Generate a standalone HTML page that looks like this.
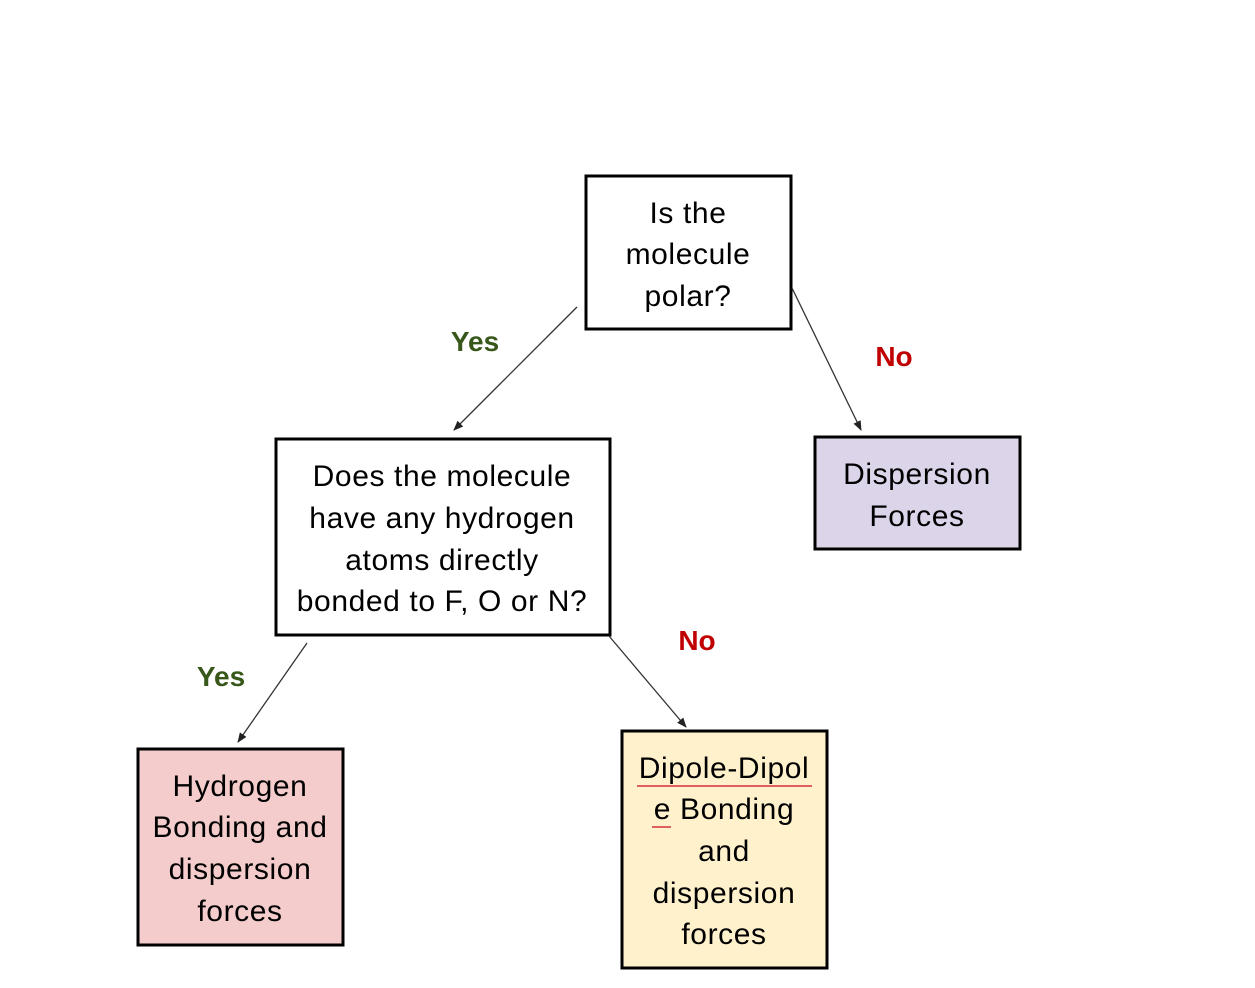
<!DOCTYPE html>
<html><head><meta charset="utf-8"><style>
html,body{margin:0;padding:0;background:#fff;}
svg text{font-family:"Liberation Sans",sans-serif;}
</style></head><body>
<svg width="1255" height="983" viewBox="0 0 1255 983" xmlns="http://www.w3.org/2000/svg">
<defs><marker id="a" markerWidth="10" markerHeight="10" refX="9" refY="5" orient="auto" markerUnits="userSpaceOnUse" viewBox="0 0 10 10"><path d="M0,1 L10,5 L0,9 Z" fill="#222"/></marker></defs>
<rect x="0" y="0" width="1255" height="983" fill="#fff"/>
<g stroke="#000" stroke-width="3">
<rect x="586" y="176" width="205" height="153" fill="#fff"/>
<rect x="276" y="439" width="334" height="196" fill="#fff"/>
<rect x="815" y="437" width="205" height="112" fill="#dcd5e9"/>
<rect x="138" y="749" width="205" height="196" fill="#f4cccc"/>
<rect x="622" y="731" width="205" height="237" fill="#fff1cc"/>
</g>
<g stroke="#333" stroke-width="1.3" marker-end="url(#a)">
<line x1="577" y1="307" x2="454" y2="430"/>
<line x1="792" y1="288" x2="861" y2="430"/>
<line x1="307" y1="643" x2="238" y2="742"/>
<line x1="609" y1="636" x2="686" y2="727"/>
</g>
<g font-size="30" fill="#000" text-anchor="middle" letter-spacing="0.6">
<text x="688" y="223">Is the</text><text x="688" y="264">molecule</text><text x="688" y="306">polar?</text>
<text x="442" y="486">Does the molecule</text><text x="442" y="528">have any hydrogen</text><text x="442" y="570">atoms directly</text><text x="442" y="611">bonded to F, O or N?</text>
<text x="917" y="484">Dispersion</text><text x="917" y="526">Forces</text>
<text x="240" y="796">Hydrogen</text><text x="240" y="837">Bonding and</text><text x="240" y="879">dispersion</text><text x="240" y="921">forces</text>
<text x="724" y="778">Dipole-Dipol</text><text x="724" y="819">e Bonding</text><text x="724" y="861">and</text><text x="724" y="903">dispersion</text><text x="724" y="944">forces</text>
</g>
<line x1="637" y1="786" x2="812" y2="786" stroke="#e06060" stroke-width="2"/>
<line x1="652" y1="827" x2="671" y2="827" stroke="#e06060" stroke-width="2"/>
<g font-size="28" font-weight="bold" text-anchor="middle">
<text x="475" y="351" fill="#38571a">Yes</text>
<text x="894" y="366" fill="#c00000">No</text>
<text x="221" y="686" fill="#38571a">Yes</text>
<text x="697" y="650" fill="#c00000">No</text>
</g>
</svg>
</body></html>
